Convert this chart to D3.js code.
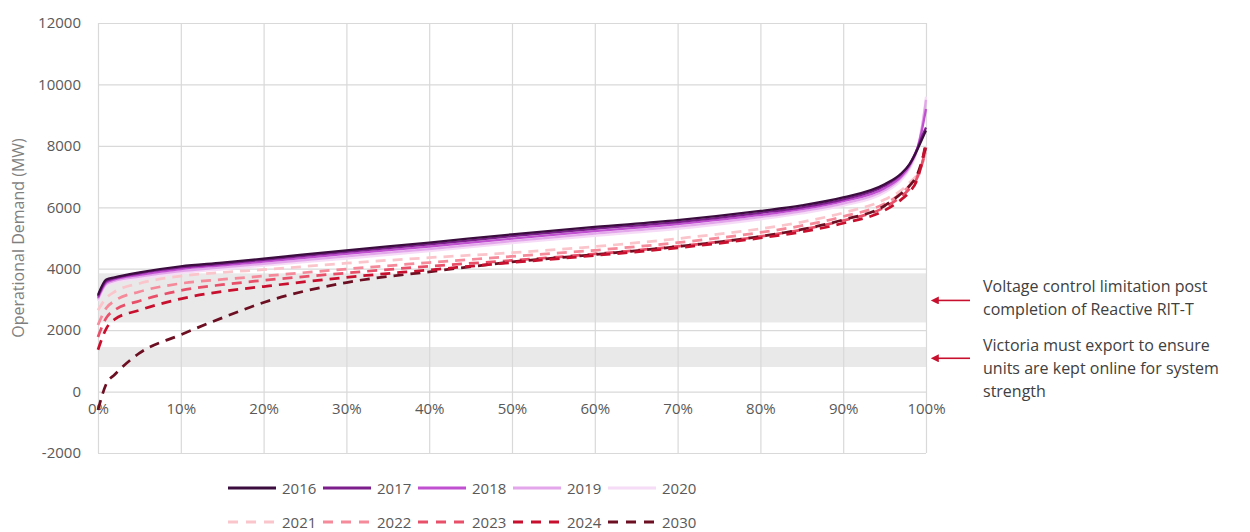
<!DOCTYPE html>
<html><head><meta charset="utf-8">
<script src="https://cdn.jsdelivr.net/npm/d3@7"></script>
<style>
body{margin:0;background:#fff;}
text{font-family:"Open Sans","Noto Sans",sans-serif;}
</style></head>
<body><svg id="c" width="1250" height="532"></svg>
<script>
// ---- data ----
const percentiles = [0, 1, 2, 5, 10, 15, 20, 30, 40, 50, 60, 70, 80, 85, 90, 95, 97, 98, 99, 99.5, 100];
const years = ["2016","2017","2018","2019","2020","2021","2022","2023","2024","2030"];
const d2016 = [3150,3650,3720,3880,4080,4200,4330,4600,4850,5120,5360,5580,5880,6060,6320,6750,7100,7400,7900,8200,8500];
const d2017 = [3100,3600,3690,3850,4040,4160,4290,4550,4790,5060,5300,5520,5820,6000,6260,6700,7080,7400,7950,8300,8600];
const d2018 = [3050,3550,3650,3800,3990,4110,4230,4480,4720,4980,5220,5450,5750,5940,6200,6620,7000,7350,7950,8500,9200];
const d2019 = [3000,3500,3600,3740,3920,4040,4160,4400,4640,4900,5140,5370,5680,5870,6120,6550,6950,7300,7950,8600,9500];
const d2020 = [2950,3450,3550,3680,3860,3980,4100,4330,4570,4830,5070,5300,5610,5800,6050,6480,6880,7250,7900,8600,9600];
const d2021 = [2650,3050,3250,3520,3760,3880,3970,4180,4360,4520,4720,4980,5300,5520,5820,6250,6550,6800,7100,7400,7700];
const d2022 = [2170,2720,2950,3250,3520,3650,3760,3990,4200,4400,4600,4850,5180,5400,5700,6120,6450,6700,7050,7400,7850];
const d2023 = [1780,2400,2650,2950,3290,3480,3620,3860,4080,4270,4480,4730,5050,5270,5570,6000,6350,6600,7000,7400,7950];
const d2024 = [1360,2050,2350,2650,3020,3260,3420,3720,3960,4200,4430,4680,5000,5200,5480,5900,6250,6500,6950,7450,8150];
const d2030 = [-600,250,550,1250,1850,2400,2900,3550,3900,4220,4460,4720,5050,5280,5590,6050,6450,6700,7100,7500,8000];
const seriesValues = [d2016,d2017,d2018,d2019,d2020,d2021,d2022,d2023,d2024,d2030];
const dashedFlags = [false,false,false,false,false,true,true,true,true,true];
const colors = ["#3a0d3e","#7c1f8c","#c150d1","#e3a6ea","#f6dcf6","#fbc5cc","#f48a9a","#e8506a","#c8102e","#6d0f22"];
const yTicks = [-2000,0,2000,4000,6000,8000,10000,12000];
const xTicks = [0,10,20,30,40,50,60,70,80,90,100];
const bands = [[2250,3850],[800,1450]];
const notes = [["Voltage control limitation post","completion of Reactive RIT-T"],
               ["Victoria must export to ensure","units are kept online for system","strength"]];

// ---- chart ----
const svg = d3.select("#c");
const x = d3.scaleLinear().domain([0,100]).range([98,926]);
const y = d3.scaleLinear().domain([-2000,12000]).range([453,23]);
const txt = "#595959", grid = "#d9d9d9";

// bands
svg.selectAll("rect.band").data(bands).join("rect")
  .attr("x", x(0)).attr("width", x(100)-x(0))
  .attr("y", d=>y(d[1])).attr("height", d=>y(d[0])-y(d[1]))
  .attr("fill","#e9e9e9");

// grid
svg.append("g").selectAll("line").data(yTicks).join("line")
  .attr("x1",x(0)).attr("x2",x(100)).attr("y1",d=>y(d)+0.5).attr("y2",d=>y(d)+0.5)
  .attr("stroke",grid).attr("stroke-width",1.2);
svg.append("g").selectAll("line").data(xTicks).join("line")
  .attr("y1",y(12000)).attr("y2",y(-2000)).attr("x1",d=>x(d)+0.5).attr("x2",d=>x(d)+0.5)
  .attr("stroke",grid).attr("stroke-width",1.2);

// axes
const yAxis = svg.append("g").attr("transform",`translate(${x(0)},0)`)
  .call(d3.axisLeft(y).tickValues(yTicks).tickSize(0).tickPadding(17).tickFormat(d=>String(d)));
yAxis.select(".domain").remove();
yAxis.selectAll("text").attr("fill",txt).style("font-size","15px");
const xAxis = svg.append("g").attr("transform",`translate(0,${y(0)})`)
  .call(d3.axisBottom(x).tickValues(xTicks).tickSize(0).tickPadding(12).tickFormat(d=>d+"%"));
xAxis.select(".domain").remove();
xAxis.selectAll("text").attr("fill",txt).style("font-size","15px");

svg.append("text").attr("transform",`translate(24,${(y(12000)+y(-2000))/2}) rotate(-90)`)
  .attr("text-anchor","middle").attr("fill","#7f7f7f").style("font-size","16px")
  .text("Operational Demand (MW)");

// lines
const line = d3.line().x((d,i)=>x(percentiles[i])).y(d=>y(d)).curve(d3.curveMonotoneX);
const order = [4,3,2,1,0,5,6,7,9,8];
order.forEach(i=>{
  svg.append("path").datum(seriesValues[i]).attr("d",line)
    .attr("fill","none").attr("stroke",colors[i])
    .attr("stroke-width", dashedFlags[i]?2.75:2.25)
    .attr("stroke-dasharray", dashedFlags[i]?"10,7":null);
});

// annotations
const arrowY = [y(3000)+1, y(1100)+0.5];
const defs = svg.append("defs");
defs.append("marker").attr("id","ah").attr("viewBox","0 0 10 10").attr("refX",1).attr("refY",5)
  .attr("markerWidth",5.5).attr("markerHeight",5).attr("orient","auto-start-reverse")
  .append("path").attr("d","M0,0 L10,5 L0,10 z").attr("fill","#c8102e");
arrowY.forEach(ay=>{
  svg.append("line").attr("x1",970).attr("x2",938).attr("y1",ay).attr("y2",ay)
    .attr("stroke","#c8102e").attr("stroke-width",1.6).attr("marker-end","url(#ah)");
});
const noteTop = [292, 351];
notes.forEach((lines,k)=>{
  lines.forEach((s,j)=>{
    svg.append("text").attr("x",983).attr("y",noteTop[k]+j*23).attr("fill","#404040")
      .style("font-size","16px").text(s);
  });
});

// legend
years.forEach((yr,i)=>{
  const col = i%5, row = Math.floor(i/5);
  const lx = 228 + col*95, ly = row===0?488:522;
  svg.append("line").attr("x1",lx).attr("x2",lx+48).attr("y1",ly).attr("y2",ly)
    .attr("stroke",colors[i]).attr("stroke-width",3)
    .attr("stroke-dasharray",dashedFlags[i]?"10,8":null);
  svg.append("text").attr("x",lx+54).attr("y",ly+5.5).attr("fill",txt)
    .style("font-size","15px").text(yr);
});
</script></body></html>
